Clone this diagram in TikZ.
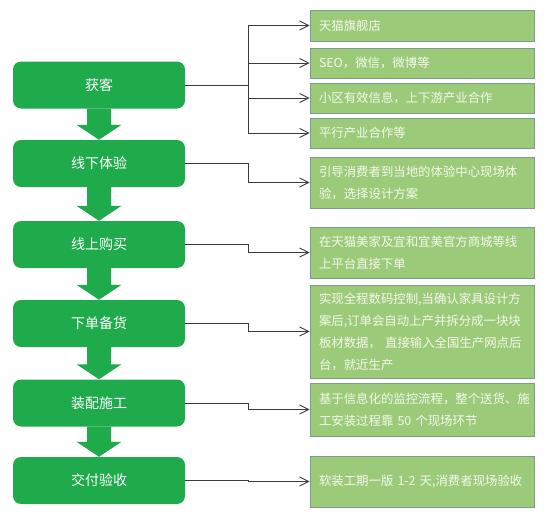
\documentclass[tikz,border=0pt]{standalone}
\usepackage{fontspec}
\usepackage{tikz}
\usetikzlibrary{arrows.meta,calc}
\newfontfamily\cjk{Noto Sans CJK SC}
\definecolor{stepgreen}{HTML}{1FAA4C}
\definecolor{notegreen}{HTML}{9BCB78}
\definecolor{noteedge}{HTML}{7E9C8C}
\definecolor{notetext}{HTML}{F4F8EE}
\definecolor{linkgray}{HTML}{3A3A3A}

\tikzset{
  stagebox/.style={fill=stepgreen,rounded corners=8pt,minimum width=172pt,minimum height=47pt,
    text=white,font=\cjk\fontsize{14}{16}\selectfont},
  notebox/.style={draw=noteedge,line width=0.8pt,fill=notegreen,minimum width=224pt,
    text width=206pt,inner xsep=9pt,align=left,text=notetext,
    font=\cjk\fontsize{12.4}{22}\selectfont},
  bigarrow/.style={fill=stepgreen},
  link/.style={draw=linkgray,line width=0.9pt,-{Straight Barb[length=9pt,width=9pt]}}
}

\begin{document}
\begin{tikzpicture}[x=1pt,y=-1pt]
  \useasboundingbox (0,0) rectangle (550,522);

  % process stages
  \node[stagebox] (acq) at (99,85) {获客};
  \node[stagebox] (offline) at (99,163.5) {线下体验};
  \node[stagebox] (online) at (99,244.5) {线上购买};
  \node[stagebox] (order) at (99,323.5) {下单备货};
  \node[stagebox] (build) at (99,403) {装配施工};
  \node[stagebox] (deliver) at (99,480.5) {交付验收};

  % arrows between stages
  \foreach \a/\b in {acq/offline,offline/online,online/order,order/build,build/deliver}{
    \fill[bigarrow] ($(\a.south)+(-12,0)$) -- ($(\b.north)+(-12,-15)$) -- ($(\b.north)+(-22.5,-15)$)
      -- (\b.north) -- ($(\b.north)+(22.5,-15)$) -- ($(\b.north)+(12,-15)$) -- ($(\a.south)+(12,0)$) -- cycle;
  }

  % notes
  \node[notebox,minimum height=31pt] (tmall) at (422,25.5) {天猫旗舰店};
  \node[notebox,minimum height=30pt] (seo) at (422,63) {SEO，微信，微博等};
  \node[notebox,minimum height=30pt] (estate) at (422,98) {小区有效信息，上下游产业合作};
  \node[notebox,minimum height=30pt] (partner) at (422,133) {平行产业合作等};
  \node[notebox,minimum height=51pt] (guide) at (422,182.5) {引导消费者到当地的体验中心现场体\\验，选择设计方案};
  \node[notebox,minimum height=51pt] (mall) at (422,252.5) {在天猫美家及宜和宜美官方商城等线\\上平台直接下单};
  \node[notebox,minimum height=93pt] (digital) at (422,331.5) {实现全程数码控制,当确认家具设计方\\案后,订单会自动上产并拆分成一块块\\板材数据， 直接输入全国生产网点后\\台，就近生产};
  \node[notebox,minimum height=53pt] (monitor) at (422,409.5) {基于信息化的监控流程，整个送货、施\\工安装过程靠 50 个现场环节};
  \node[notebox,minimum height=51pt] (accept) at (422,481.5) {软装工期一版 1-2 天,消费者现场验收};

  % connectors
  \coordinate (split) at (248,0);
  \draw[draw=linkgray,line width=0.9pt] (acq.east) -- (acq.east -| split);
  \foreach \n in {tmall,seo,estate,partner}{
    \draw[link] (acq.east -| split) |- (\n.west);
  }
  \draw[link] (offline.east) -- (offline.east -| split) |- (guide.west);
  \draw[link] (online.east) -- (online.east -| split) |- (mall.west);
  \draw[link] (order.east) -- (order.east -| split) |- (digital.west);
  \draw[link] (build.east) -- (build.east -| split) |- (monitor.west);
  \draw[link] (deliver.east) -- (deliver.east -| split) |- (accept.west);
\end{tikzpicture}
\end{document}
